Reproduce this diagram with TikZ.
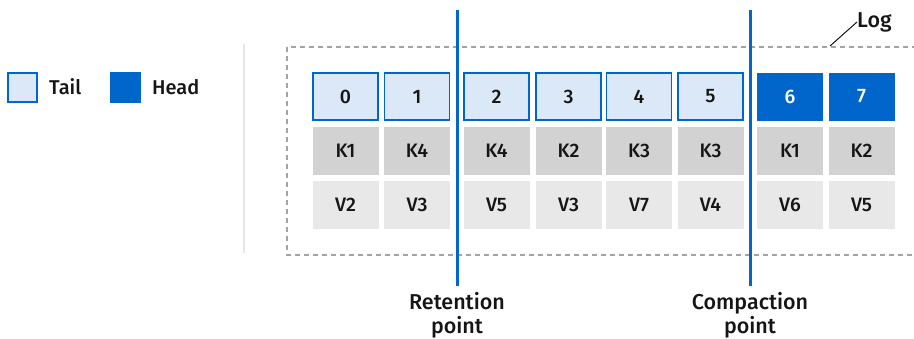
\documentclass[tikz,border=0pt]{standalone}
\usepackage{fontspec}
\setmainfont{Fira Sans Medium}
\definecolor{rhblue}{HTML}{0066CC}
\definecolor{tailfill}{HTML}{DBE8F8}
\definecolor{kfill}{HTML}{D2D2D2}
\definecolor{vfill}{HTML}{E8E8E8}
\definecolor{txt}{HTML}{151515}
\definecolor{dashgray}{HTML}{A3A3A3}
\definecolor{sepgray}{HTML}{E6E6E6}
\tikzset{
  cell/.style={minimum width=66pt,minimum height=48pt,inner sep=0pt,text=txt,font=\fontsize{19.5}{23}\selectfont},
  tailcell/.style={cell,fill=tailfill,draw=rhblue,line width=1.3pt},
  headcell/.style={cell,fill=rhblue,text=white},
  kcell/.style={cell,fill=kfill},
  vcell/.style={cell,fill=vfill},
  lbl/.style={text=txt,font=\fontsize{21.5}{24}\selectfont,inner sep=0pt},
  leglbl/.style={text=txt,font=\fontsize{20}{24}\selectfont,inner sep=0pt},
  cutline/.style={draw=rhblue,line width=3pt},
}
\begin{document}
\begin{tikzpicture}[x=1pt,y=-1pt]
\useasboundingbox (0,0) rectangle (914,338);
\begin{scope}
\clip (0,0) rectangle (914,338);
\draw[dashgray,line width=1.5pt,dash pattern=on 5pt off 4pt] (287,47) rectangle (925,255);
\end{scope}
\draw[sepgray,line width=2pt] (244,44) -- (244,253);
% legend
\node[tailcell,minimum width=29pt,minimum height=29pt] (lt) at (22.5,87.5) {};
\node[leglbl,anchor=west] (ltt) at (49,87) {Tail};
\node[headcell,minimum width=31pt,minimum height=31pt] (lh) at (125.5,87.5) {};
\node[leglbl,anchor=west] (lht) at (152,87) {Head};
% cells
\foreach \i/\x/\k/\v in {0/345.5/K1/V2,1/417/K4/V3,2/496.5/K4/V5,3/568.5/K2/V3,4/639/K3/V7,5/710.5/K3/V4}{
  \node[tailcell,minimum width=65pt,minimum height=47pt] (o\i) at (\x,96.5) {\i};
  \node[kcell] (k\i) at (\x,150.5) {\k};
  \node[vcell] (v\i) at (\x,204.5) {\v};
}
\foreach \i/\x/\k/\v in {6/790/K1/V6,7/861.5/K2/V5}{
  \node[headcell] (o\i) at (\x,96.5) {\i};
  \node[kcell] (k\i) at (\x,150.5) {\k};
  \node[vcell] (v\i) at (\x,204.5) {\v};
}
% cut lines
\coordinate (rt) at (457,10);
\coordinate (rb) at (457,286);
\coordinate (ct) at (750,10);
\coordinate (cb) at (750,286);
\draw[cutline] (rt) -- (rb);
\draw[cutline] (ct) -- (cb);
\node[lbl,align=center,anchor=north] (rl) at (457,292) {Retention\\point};
\node[lbl,align=center,anchor=north] (cl) at (750,292) {Compaction\\point};
% log label
\node[lbl,anchor=west] (log) at (857,22) {Log};
\coordinate (logp) at (830,46);
\draw[txt,line width=1pt] (logp) -- (log.west);
\end{tikzpicture}
\end{document}
